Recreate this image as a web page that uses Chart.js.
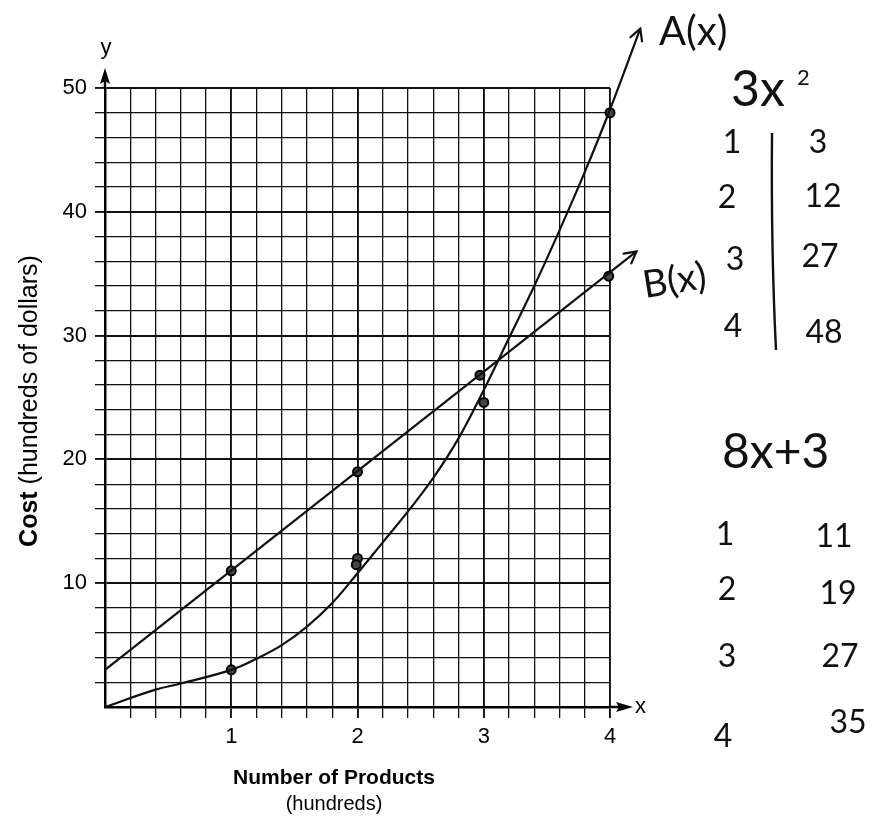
<!DOCTYPE html>
<html>
<head>
<meta charset="utf-8">
<script src="https://cdn.jsdelivr.net/npm/chart.js@4.4.1/dist/chart.umd.min.js"></script>
<style>
  html, body { margin: 0; padding: 0; background: #fff; }
  #chart1 { display: block; }
</style>
</head>
<body>
<canvas id="chart1" width="872" height="820"></canvas>
<script>
// hand drawn curve A(x)
// (last point inside the axis is 3.99 so chart.js keeps the point past x=4)
const aCurveX = [0, 0.4, 0.6, 1, 1.2, 1.4, 1.6, 1.8, 2.0, 2.2, 2.4, 2.6, 2.8, 3.0, 3.2, 3.4, 3.6, 3.8, 3.99, 4.24];
const aCurveY = [0, 1.4, 1.9, 3, 3.9, 5.0, 6.5, 8.4, 10.8, 13.3, 15.8, 18.5, 21.7, 25.6, 29.8, 34.0, 38.5, 43.2, 48, 54.8];
// straight line B(x)
const bLineX = [0, 4.21];
const bLineY = [3, 36.8];
// plotted dots
const aDotX = [1, 2, 1.99, 3, 4];
const aDotY = [3, 12, 11.5, 24.6, 48];
const bDotX = [1, 2, 2.97, 3.99];
const bDotY = [11, 19, 26.8, 34.8];
// tick labels
const xTickLabels = [1, 2, 3, 4];
const yTickLabels = [10, 20, 30, 40, 50];
const xTitle = 'Number of Products';
const xSubTitle = '(hundreds)';
const yTitleBold = 'Cost';
const yTitleRest = ' (hundreds of dollars)';

const SANS = '"Liberation Sans", Arial, Helvetica, sans-serif';
const HAND = '"Lato", "Open Sans", sans-serif';
const INK = '#111';

function toPoints(xs, ys) {
  return xs.map((x, i) => ({ x: x, y: ys[i] }));
}

//arrow heads at the end of the two drawn lines
const lineArrows = {
  id: 'lineArrows',
  afterDatasetsDraw(chart) {
    const ctx = chart.ctx;
    [0, 1].forEach(i => {
      const pts = chart.getDatasetMeta(i).data;
      const last = pts[pts.length - 1];
      const prev = pts[pts.length - 2];
      const ang = Math.atan2(last.y - prev.y, last.x - prev.x);
      ctx.save();
      ctx.strokeStyle = INK;
      ctx.lineWidth = 2.2;
      ctx.lineCap = 'round';
      ctx.beginPath();
      ctx.moveTo(last.x + 13 * Math.cos(ang + 2.65), last.y + 13 * Math.sin(ang + 2.65));
      ctx.lineTo(last.x, last.y);
      ctx.lineTo(last.x + 13 * Math.cos(ang - 2.65), last.y + 13 * Math.sin(ang - 2.65));
      ctx.stroke();
      ctx.restore();
    });
  }
};

//axis arrows, titles and the handwritten notes
const decorations = {
  id: 'decorations',
  afterDraw(chart) {
    const ctx = chart.ctx;
    const area = chart.chartArea;
    ctx.save();
    ctx.fillStyle = '#000';
    ctx.strokeStyle = '#000';
    ctx.lineWidth = 2.5;

    // y axis arrow
    ctx.beginPath();
    ctx.moveTo(area.left, area.top);
    ctx.lineTo(area.left, area.top - 8);
    ctx.stroke();
    ctx.beginPath();
    ctx.moveTo(area.left, area.top - 20);
    ctx.lineTo(area.left - 5, area.top - 4);
    ctx.lineTo(area.left, area.top - 7);
    ctx.lineTo(area.left + 5, area.top - 4);
    ctx.closePath();
    ctx.fill();

    // x axis arrow
    ctx.beginPath();
    ctx.moveTo(area.right, area.bottom);
    ctx.lineTo(area.right + 10, area.bottom);
    ctx.stroke();
    ctx.beginPath();
    ctx.moveTo(area.right + 23, area.bottom);
    ctx.lineTo(area.right + 6, area.bottom - 5);
    ctx.lineTo(area.right + 9, area.bottom);
    ctx.lineTo(area.right + 6, area.bottom + 5);
    ctx.closePath();
    ctx.fill();

    ctx.font = '22px ' + SANS;
    ctx.textAlign = 'center';
    ctx.textBaseline = 'alphabetic';
    ctx.fillText('y', area.left + 1, 54);
    ctx.textAlign = 'left';
    ctx.textBaseline = 'middle';
    ctx.fillText('x', area.right + 25, area.bottom);

    // x title
    ctx.textAlign = 'center';
    ctx.textBaseline = 'alphabetic';
    ctx.font = 'bold 21px ' + SANS;
    ctx.fillText(xTitle, 334, 784);
    ctx.font = '20px ' + SANS;
    ctx.fillText(xSubTitle, 334, 810);

    // y title, bold part + normal part
    ctx.save();
    ctx.translate(37, 401);
    ctx.rotate(-Math.PI / 2);
    ctx.textAlign = 'left';
    ctx.font = 'bold 25px ' + SANS;
    const wb = ctx.measureText(yTitleBold).width;
    ctx.font = '25px ' + SANS;
    const wr = ctx.measureText(yTitleRest).width;
    const start = -(wb + wr) / 2;
    ctx.font = 'bold 25px ' + SANS;
    ctx.fillText(yTitleBold, start, 0);
    ctx.font = '25px ' + SANS;
    ctx.fillText(yTitleRest, start + wb, 0);
    ctx.restore();

    // handwritten notes
    ctx.fillStyle = INK;
    ctx.strokeStyle = INK;
    ctx.textBaseline = 'alphabetic';
    ctx.textAlign = 'left';
    ctx.font = '40px ' + HAND;
    ctx.fillText('A(x)', 659, 45);

    ctx.save();
    ctx.translate(645, 298);
    ctx.rotate(-0.16);
    ctx.font = '38px ' + HAND;
    ctx.fillText('B(x)', 0, 0);
    ctx.restore();

    ctx.font = '50px ' + HAND;
    ctx.fillText('3x', 731, 106);
    ctx.font = '22px ' + HAND;
    ctx.fillText('2', 797, 85);

    ctx.textAlign = 'center';
    ctx.font = '32px ' + HAND;
    [['1', 732, 153], ['2', 727, 208], ['3', 735, 270], ['4', 733, 337],
     ['3', 818, 153], ['12', 823, 207], ['27', 820, 267], ['48', 824, 343]].forEach(t => {
      ctx.fillText(t[0], t[1], t[2]);
    });
    ctx.lineWidth = 2.4;
    ctx.beginPath();
    ctx.moveTo(772, 133);
    ctx.quadraticCurveTo(771, 250, 776, 350);
    ctx.stroke();

    ctx.textAlign = 'left';
    ctx.font = '48px ' + HAND;
    ctx.fillText('8x+3', 722, 468);

    ctx.textAlign = 'center';
    ctx.font = '32px ' + HAND;
    [['1', 725, 545], ['2', 727, 600], ['3', 727, 667], ['4', 723, 747],
     ['11', 834, 547], ['19', 838, 604], ['27', 840, 667], ['35', 848, 733]].forEach(t => {
      ctx.fillText(t[0], t[1], t[2]);
    });
    ctx.restore();
  }
};

function isOn(list, v) {
  return list.some(l => Math.abs(l - v) < 1e-6);
}

const chart1 = new Chart(document.getElementById('chart1'), {
  type: 'scatter',
  data: {
    datasets: [
      {
        label: 'A(x)',
        type: 'line',
        data: toPoints(aCurveX, aCurveY),
        borderColor: INK,
        borderWidth: 2.2,
        pointRadius: 0,
        tension: 0.4,
        fill: false,
        clip: false
      },
      {
        label: 'B(x)',
        type: 'line',
        data: toPoints(bLineX, bLineY),
        borderColor: INK,
        borderWidth: 2.2,
        pointRadius: 0,
        fill: false,
        clip: false
      },
      {
        label: 'A points',
        data: toPoints(aDotX, aDotY),
        backgroundColor: '#444',
        borderColor: '#000',
        borderWidth: 2,
        pointRadius: 4.5,
        clip: false
      },
      {
        label: 'B points',
        data: toPoints(bDotX, bDotY),
        backgroundColor: '#444',
        borderColor: '#000',
        borderWidth: 2,
        pointRadius: 4.5,
        clip: false
      }
    ]
  },
  options: {
    responsive: false,
    devicePixelRatio: 1,
    animation: false,
    layout: { padding: { left: 0, right: 262, top: 88, bottom: 73 } },
    plugins: {
      legend: { display: false },
      tooltip: { enabled: false }
    },
    scales: {
      x: {
        type: 'linear',
        min: 0,
        max: 4,
        border: { color: '#000', width: 2.5 },
        grid: {
          color: '#111',
          lineWidth: c => isOn(xTickLabels, c.tick.value) ? 1.9 : 1.3,
          tickColor: c => c.tick.value === 0 ? 'rgba(0,0,0,0)' : '#111',
          tickLength: 11
        },
        ticks: {
          stepSize: 0.2,
          autoSkip: false,
          maxRotation: 0,
          padding: 6,
          color: '#000',
          font: { family: SANS, size: 22 },
          callback: v => isOn(xTickLabels, v) ? String(Math.round(v)) : ''
        },
        afterFit: s => { s.height = 40; }
      },
      y: {
        type: 'linear',
        min: 0,
        max: 50,
        border: { color: '#000', width: 2.5 },
        grid: {
          color: '#111',
          lineWidth: c => isOn(yTickLabels, c.tick.value) ? 1.9 : 1.3,
          tickColor: c => c.tick.value === 0 ? 'rgba(0,0,0,0)' : '#111',
          tickLength: 10
        },
        ticks: {
          stepSize: 2,
          autoSkip: false,
          padding: 8,
          color: '#000',
          font: { family: SANS, size: 22 },
          callback: v => isOn(yTickLabels, v) ? String(v) : ''
        },
        afterFit: s => { s.width = 105; }
      }
    }
  },
  plugins: [lineArrows, decorations]
});
</script>
</body>
</html>
